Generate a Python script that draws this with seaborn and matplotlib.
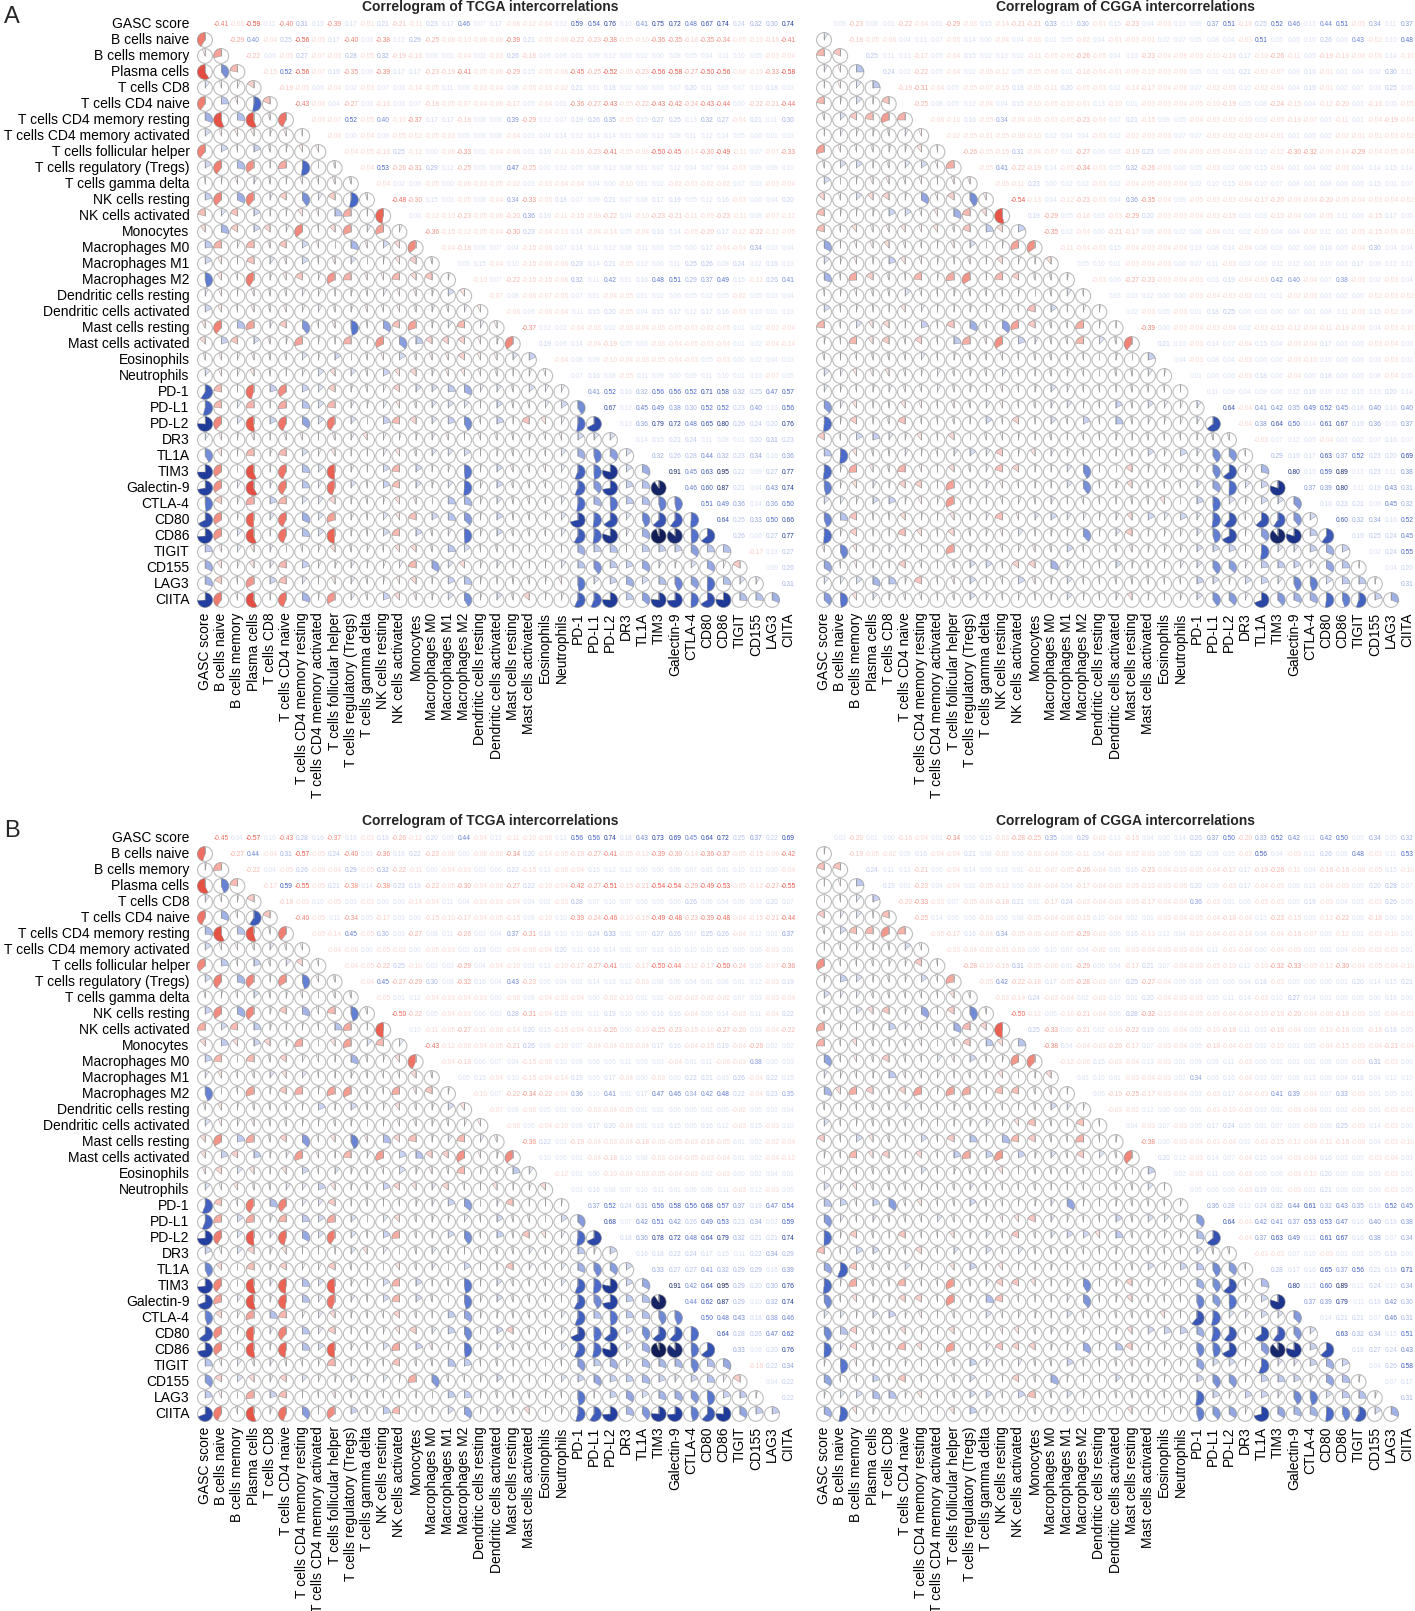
import numpy as np
import matplotlib
matplotlib.use("Agg")
import matplotlib.pyplot as plt
from matplotlib.patches import Circle, Wedge
from matplotlib.collections import PatchCollection, LineCollection
import seaborn as sns

labels = [
    "GASC score", "B cells naive", "B cells memory", "Plasma cells", "T cells CD8",
    "T cells CD4 naive", "T cells CD4 memory resting", "T cells CD4 memory activated",
    "T cells follicular helper", "T cells regulatory (Tregs)", "T cells gamma delta",
    "NK cells resting", "NK cells activated", "Monocytes", "Macrophages M0",
    "Macrophages M1", "Macrophages M2", "Dendritic cells resting",
    "Dendritic cells activated", "Mast cells resting", "Mast cells activated",
    "Eosinophils", "Neutrophils", "PD-1", "PD-L1", "PD-L2", "DR3", "TL1A", "TIM3",
    "Galectin-9", "CTLA-4", "CD80", "CD86", "TIGIT", "CD155", "LAG3", "CIITA",
]

# upper triangle, one string per row, correlation x 100 (row i holds columns i+1 .. end)
tcga_a = [
    "-41 -6 -59 11 -40 31 15 -39 17 -1 21 -21 -11 23 17 46 7 17 -8 -12 -4 12 59 54 76 10 41 75 72 48 67 74 24 32 30 74",
    "-29 40 -4 25 -56 -5 17 -40 3 -38 12 29 -25 -8 -10 -6 -8 -39 21 -5 -6 -22 -23 -38 -5 -10 -36 -35 -16 -35 -34 -5 -10 -16 -41",
    "-22 6 -5 27 -7 -3 28 -5 32 -19 -16 6 1 -4 2 -3 26 -18 6 6 1 9 12 3 2 0 8 5 4 11 10 5 -3 -4",
    "-15 52 -56 -7 19 -35 9 -39 17 17 -23 -19 -41 -5 -6 -29 15 -5 -8 -45 -25 -52 -6 -23 -56 -58 -27 -50 -56 -8 -10 -33 -58",
    "-19 -5 6 -4 2 -3 7 3 -14 -5 11 6 -3 -4 8 -5 -3 -2 21 1 18 2 6 3 7 20 11 3 7 10 18 3",
    "-43 -6 4 -27 3 -16 3 7 -18 -5 -7 -4 -6 -17 5 -4 1 -36 -27 -43 -5 -22 -43 -42 -24 -43 -44 0 -22 -21 -44",
    "-3 -7 52 -5 40 -10 -37 17 17 -18 8 6 39 -29 12 7 19 26 35 -5 15 27 25 13 32 27 -4 21 11 30",
    "-6 0 -4 9 -5 -2 -5 -3 5 6 8 -4 3 4 14 12 14 14 1 6 13 8 11 12 14 5 6 1 3",
    "-4 -5 -16 25 -12 0 -6 -33 1 -4 -6 1 16 -11 -16 -23 -41 -5 -8 -50 -45 -14 -30 -49 -11 7 -7 -33",
    "-4 53 -26 -31 29 12 -25 5 6 47 -25 0 12 5 8 13 8 1 7 12 4 7 4 -3 9 9 10",
    "-4 2 9 -5 0 -6 -3 -5 -2 3 -3 -4 -4 4 0 -10 1 2 -2 -3 -2 -2 7 3 -3 -4",
    "-48 -30 15 3 -5 8 -4 34 -33 -5 18 7 9 21 7 8 17 19 5 12 16 -3 6 4 20",
    "6 -12 -10 -23 -5 -6 -20 36 16 -11 -15 -8 -22 4 -10 -23 -21 -11 -9 -23 -11 8 -7 -12",
    "-36 -15 -12 -5 -4 -30 23 -4 -13 14 -4 -14 5 -4 16 14 -5 -20 17 -12 -22 -12 -5",
    "-4 -18 6 7 4 -15 -6 7 14 11 12 8 11 3 5 0 17 -4 -4 34 3 4",
    "5 15 -4 10 -15 -6 -6 23 14 21 -5 12 6 11 25 26 8 24 12 19 13",
    "-10 7 -22 -15 -15 -8 32 11 42 1 16 48 51 29 37 49 15 -12 26 41",
    "-7 8 -6 -7 -5 7 1 -4 -5 1 2 6 5 2 5 -2 5 3 4",
    "-6 6 -6 -4 11 15 20 -5 4 15 17 12 17 16 -3 10 1 13",
    "-37 12 2 -4 -3 2 -3 -4 -6 -5 -3 -2 -5 1 2 -2 -4",
    "19 6 14 -4 -19 5 3 -3 -4 -5 -3 -4 1 2 -4 -14",
    "-4 8 9 -10 -4 -3 -5 -4 -3 5 -3 0 2 4 3",
    "7 16 8 -5 11 9 0 9 11 10 1 10 -7 5",
    "41 52 16 32 56 56 52 71 58 32 25 47 57",
    "67 12 45 49 38 30 52 52 23 40 13 56",
    "13 36 79 72 48 65 80 26 24 20 76",
    "14 15 21 24 11 8 1 20 31 23",
    "32 26 28 44 32 23 34 16 36",
    "91 45 63 95 22 9 27 77",
    "46 60 87 21 4 43 74",
    "51 49 36 14 36 50",
    "64 25 33 50 66",
    "26 6 27 77",
    "-17 13 27",
    "9 26",
    "31",
]

cgga_a = [
    "9 -23 8 1 -22 -4 1 -29 -3 15 -14 -21 -21 33 13 30 -1 15 -23 4 -3 13 9 37 51 -16 25 52 46 13 44 51 -5 34 11 37",
    "-18 -5 -6 4 13 7 -5 14 0 -4 4 -3 1 5 -2 4 -1 -3 -1 2 7 5 8 4 -3 51 5 5 10 26 6 43 -2 10 48",
    "25 11 13 -17 5 -4 15 2 13 2 -11 -5 -6 -26 -5 4 13 -23 -4 -8 -3 -10 -16 17 -10 -26 -11 5 -19 -16 -8 -6 14 -10",
    "24 2 -22 5 -4 2 -6 -12 5 -5 -6 1 -16 -4 -1 -9 -10 -3 -6 5 1 1 21 -3 -7 9 16 -1 1 4 2 30 11",
    "-19 -31 -4 5 -5 -7 -15 18 -6 -11 20 -5 -3 2 -14 -17 -4 -8 7 -2 -5 10 -2 -4 4 19 -1 2 7 3 25 5",
    "-25 8 5 12 -4 4 15 -10 -5 -10 -1 13 -10 1 -3 -3 -4 -5 -10 -19 5 8 -24 -15 4 -12 -20 3 -16 5 -5",
    "-6 -10 16 -5 34 -4 -6 -3 -5 -23 -4 7 21 -15 9 5 -4 -6 -3 -10 3 -5 -16 -7 3 -11 1 -4 -19 -4",
    "-2 -5 -1 -5 -8 -10 2 4 4 -3 2 -2 -3 -3 7 7 -3 -2 -2 -4 -1 1 5 2 -2 -1 -1 -3 -2",
    "-26 -5 -15 31 -4 -7 1 -27 6 3 -19 23 5 -4 -3 -5 -4 -13 10 -12 -30 -32 -9 -14 -29 -4 -5 -4",
    "-5 41 -22 -19 14 -5 -34 -3 5 32 -26 -3 6 5 -3 2 0 15 -4 1 4 2 -3 4 14 15 14",
    "-6 -11 23 0 2 2 -3 2 -4 -5 -3 -4 2 10 15 -4 10 7 8 1 8 6 5 15 1 7",
    "-54 -13 4 -12 -23 -3 4 36 -35 -4 9 -5 -6 -3 -4 -17 -20 -6 -4 -20 -5 -4 -3 -4 -2",
    "19 -29 5 -16 3 -3 -29 20 -3 -3 -4 -3 -15 3 3 -15 -4 6 -5 11 6 -15 17 5",
    "-35 2 -4 0 -21 -17 8 -3 2 6 -4 1 2 -10 4 4 -2 11 1 -5 -15 -6 -1",
    "-11 -4 -3 15 -4 -3 -4 -4 13 8 14 -4 8 3 2 9 16 5 -4 30 4 4",
    "5 10 1 -3 -4 -3 6 7 11 -3 2 6 11 12 1 10 3 17 9 12 12",
    "-3 6 -27 -23 -3 -4 -3 3 19 -4 -3 42 40 -4 7 38 -3 2 -3 4",
    "3 3 12 0 0 -3 -4 -3 -2 1 1 -2 -3 3 2 0 -2 -3 -2",
    "2 -3 5 -3 1 18 25 6 3 0 7 1 8 11 -3 15 -2 8",
    "-39 0 -3 -4 -3 -4 2 -3 -15 -12 -4 -11 -16 -6 4 -3 -10",
    "21 10 -3 14 7 -4 15 4 -3 -4 17 3 5 -3 -4 3",
    "4 -3 8 4 -3 6 6 -3 -10 10 5 6 3 -3 1",
    "1 6 6 -3 18 6 -4 0 18 6 5 8 -4 5",
    "11 9 4 9 6 12 19 10 12 15 13 20 14",
    "64 -4 41 42 35 49 52 45 18 40 16 40",
    "-4 38 64 50 14 61 67 19 36 5 37",
    "-3 7 12 5 -4 3 2 7 16 7",
    "29 19 17 63 37 52 23 20 69",
    "80 15 59 89 13 23 11 38",
    "37 39 80 11 19 43 31",
    "16 23 21 9 45 32",
    "60 32 34 16 52",
    "19 25 24 45",
    "2 24 55",
    "4 20",
    "31",
]

tcga_b = [
    "-45 4 -57 10 -43 28 16 -37 16 -3 19 -26 -12 20 9 44 -4 13 -11 -10 -6 12 56 56 74 18 43 73 69 45 64 72 25 37 22 69",
    "-27 44 -4 31 -57 -5 24 -40 3 -36 16 22 -23 -8 0 -8 -6 -34 20 -14 -5 -19 -27 -41 -5 -12 -39 -30 -14 -36 -37 -5 -15 -6 -42",
    "-22 4 -5 26 -6 -4 29 -5 32 -22 -11 0 -4 -3 3 6 22 -15 12 -9 -4 15 12 12 0 0 9 7 3 1 10 13 0 -4",
    "-17 59 -55 -5 21 -38 14 -38 23 19 -22 -5 -30 -4 -6 -27 22 -10 -4 -42 -27 -51 -15 -21 -54 -54 -29 -49 -53 -5 -12 -27 -55",
    "-18 -3 10 -5 3 -3 6 6 -14 -4 11 4 -3 -3 -4 4 2 -3 28 7 10 7 6 9 6 26 9 4 9 8 20 7",
    "-40 -5 11 -34 5 -17 3 6 -15 -10 -17 -4 -5 -15 8 -10 10 -39 -24 -46 -10 -16 -49 -48 -23 -39 -48 -4 -15 -21 -44",
    "-5 -14 45 -5 30 3 -27 8 11 -26 3 4 37 -31 18 10 10 24 33 1 7 27 26 7 25 26 -4 12 1 37",
    "-4 -6 0 -5 -2 0 -5 -3 2 19 2 -4 -6 -4 20 11 16 14 1 7 13 10 10 10 15 5 6 -3 1",
    "-4 -5 -22 25 -10 3 3 -29 4 -4 -10 3 12 -10 -17 -27 -41 1 -17 -50 -44 -12 -17 -50 -24 6 -7 -36",
    "-4 45 -27 -29 30 8 -32 16 4 43 -23 6 4 2 14 13 12 -3 8 9 4 1 8 1 12 -3 19",
    "-5 1 12 -4 -3 -4 -3 0 -6 8 -4 -3 -4 0 -2 -10 1 2 -2 -3 -2 -2 7 3 -3 -4",
    "-50 -22 5 -4 -3 6 3 28 -31 -4 19 1 11 19 10 0 16 16 -4 6 14 -3 11 -4 22",
    "10 -11 -5 -27 -11 -6 -14 20 15 -15 -4 -13 -26 0 -10 -25 -23 -15 -10 -27 -20 3 -4 -22",
    "-43 -12 -6 -4 -5 -21 26 8 -10 7 -4 -4 -3 -4 17 16 -4 -15 19 -4 -26 2 2",
    "-4 -18 6 7 4 -15 -6 10 8 6 5 11 9 3 -4 1 11 -6 -3 38 0 3",
    "5 15 -4 10 -15 -4 -14 19 5 17 -4 0 -3 0 22 21 3 26 -4 22 15",
    "-10 7 -22 -34 -22 -4 36 10 41 1 17 47 46 34 42 48 22 -4 23 35",
    "-7 8 -6 5 1 0 -3 -4 -5 1 2 6 5 2 5 -2 5 3 4",
    "-6 6 -4 -10 8 17 20 -4 1 13 15 5 16 12 -3 15 -3 10",
    "-36 22 3 -19 -4 -3 -4 -18 -6 -5 -3 -16 -5 1 2 -2 -4",
    "10 6 1 -4 -18 10 8 -3 -4 -5 -3 -4 1 2 -4 -12",
    "-12 1 0 -10 -4 -3 -5 -4 -3 2 -3 0 2 4 1",
    "3 16 8 7 10 11 1 9 9 11 -3 12 -3 5",
    "37 52 24 31 56 58 56 68 57 37 19 47 54",
    "68 7 42 51 42 26 49 53 23 34 2 59",
    "18 36 78 72 48 64 79 32 21 21 74",
    "16 18 22 24 17 15 11 22 34 29",
    "33 27 27 41 32 29 29 16 39",
    "91 42 64 95 29 20 30 76",
    "44 62 87 29 10 32 74",
    "50 48 43 18 38 46",
    "64 28 26 47 62",
    "33 8 20 76",
    "-16 22 34",
    "4 22",
    "22",
]

cgga_b = [
    "3 -20 1 0 -16 -4 1 -34 6 15 -3 -28 -25 35 8 29 -3 13 -16 4 0 14 26 37 50 -20 33 52 42 11 42 50 5 34 5 32",
    "-19 -5 -2 9 16 -4 -4 21 8 -2 6 -3 -4 6 -11 4 -3 -2 -3 6 9 20 9 5 -3 56 4 -3 11 26 8 48 -3 11 53",
    "24 11 12 -21 6 -4 14 9 13 1 -11 -7 -5 -26 -4 3 16 -23 -4 -10 -5 -4 -17 17 -19 -26 -11 4 -16 -16 -6 -5 15 -10",
    "19 1 -23 4 -4 2 -5 -12 6 -4 -4 4 -17 -4 -3 -9 -10 -3 -6 20 9 -3 17 -4 -5 6 13 -4 -3 5 20 28 7",
    "-20 -33 -3 7 -5 -4 -18 21 1 -17 24 -3 -4 -3 -5 -17 -4 -4 36 -3 1 6 -5 -3 5 19 -3 4 3 -3 26 5",
    "-25 14 6 6 -3 6 8 -5 -4 -6 -15 10 -4 2 1 -3 -4 -5 -4 -18 -4 13 -23 -15 6 -12 -22 6 -18 6 0",
    "-5 -17 16 -4 34 -5 -6 -3 -5 -29 -3 6 16 -13 13 4 -10 -4 -3 -14 4 -4 -16 -7 6 -12 1 -3 -10 1",
    "-3 -4 -2 -1 -3 0 10 7 4 -2 1 -3 -4 -3 -3 -4 11 -3 -4 0 -4 -3 1 2 4 -3 -2 -3 1",
    "-28 -10 -16 31 -5 -6 1 -29 6 4 -17 21 7 -4 -3 -5 -10 12 -10 -32 -33 -5 -12 -30 -4 -5 -4 -10",
    "-5 42 -22 -18 17 -5 -28 -3 7 25 -27 -4 9 16 3 6 4 18 -3 5 0 0 1 20 14 15 21",
    "-3 -14 24 -3 -4 2 -3 10 1 20 -4 -3 -3 5 11 14 -3 10 27 14 1 9 9 0 16 6",
    "-50 -12 5 -10 -21 -4 6 28 -32 -10 -4 -5 -6 -4 -4 -10 -16 -20 -4 -6 -18 -3 2 -4 -3",
    "25 -33 0 -21 2 -10 -22 19 1 -4 2 -10 -18 11 2 -18 -4 6 -10 -16 8 -16 18 5",
    "-38 4 -4 -3 -20 -17 7 -3 -4 5 -18 -4 -3 2 -10 1 5 -4 -15 -3 -4 -21 -4",
    "-12 -6 15 -3 -4 13 -3 1 9 9 11 -3 6 2 1 2 8 6 -3 31 -3 6",
    "3 10 1 -3 -4 -3 2 34 6 16 -4 2 7 8 13 6 4 18 4 13 10",
    "5 -19 -25 -17 -3 -4 3 -3 17 -4 -3 41 39 -4 7 33 -3 1 5 1",
    "-3 -2 12 0 0 1 -3 -10 -3 2 1 -3 -4 1 2 -3 1 -3 -3",
    "4 -3 7 -3 5 17 24 5 1 7 6 -3 6 25 -3 14 -3 0",
    "-38 0 -3 -4 -3 -4 2 -3 -15 -12 -4 -11 -16 -6 4 -3 -10",
    "20 12 -3 14 7 -4 15 4 -3 -4 16 3 5 -3 -4 3",
    "2 -3 11 6 -3 6 6 -3 -10 20 5 6 3 -3 1",
    "5 6 6 -3 19 1 -3 1 21 6 5 6 -3 5",
    "36 28 13 24 32 44 61 32 43 35 19 52 45",
    "64 -4 42 41 37 53 53 47 16 40 19 38",
    "-4 37 63 49 12 61 67 16 38 7 34",
    "-3 -3 7 10 -3 1 3 5 19 6",
    "28 17 16 65 37 56 21 19 71",
    "80 13 60 89 12 24 10 34",
    "37 39 79 11 19 42 30",
    "14 21 21 7 46 31",
    "63 32 34 15 51",
    "19 27 24 43",
    "4 26 58",
    "7 17",
    "31",
]


def build(rows):
    n = len(labels)
    m = np.eye(n)
    for i, s in enumerate(rows):
        need = n - 1 - i
        vals = [int(v) / 100 for v in s.split()]
        vals = (vals + [0.0] * need)[:need]
        for j, v in enumerate(vals):
            m[i, i + 1 + j] = v
            m[i + 1 + j, i] = v
    return m


sns.set_theme(style="white")
plt.rcParams["font.family"] = ["Liberation Sans", "DejaVu Sans"]

cmap = sns.blend_palette(
    ["#9E0F12", "#D42E26", "#EC5F50", "#F7B2A8", "#FFFFFF",
     "#BAC7EE", "#4E6DCB", "#203C9E", "#0E1745"], as_cmap=True)

W, H = 1415, 1611
fig = plt.figure(figsize=(W / 100, H / 100), dpi=100)
n = len(labels)
CW, CH = 16.2, 16.0
R = 0.46


def panel(mat, x0, y0, show_rows):
    left = x0 - CW / 2
    top = y0 - CH / 2
    ax = fig.add_axes([left / W, 1 - (top + n * CH) / H, n * CW / W, n * CH / H])
    ax.set_xlim(-0.5, n - 0.5)
    ax.set_ylim(-0.5, n - 0.5)
    ax.axis("off")
    circles, wedges, wcols, ticks = [], [], [], []
    for r in range(n):
        yy = n - 1 - r
        for k in range(n):
            v = mat[r, k]
            if k < r:
                circles.append(Circle((k, yy), R))
                if v >= 0:
                    t1, t2 = 90 - 360 * v, 90
                else:
                    t1, t2 = 90, 90 - 360 * v
                if abs(v) > 0.004:
                    wedges.append(Wedge((k, yy), R, t1, t2))
                    wcols.append(cmap((v + 1) / 2))
                ticks.append([(k, yy), (k, yy + R)])
            elif k > r:
                tv = np.sign(v) * max(abs(v), 0.13) if v != 0 else 0.13
                ax.text(k, yy, f"{v:.2f}", color=cmap((tv + 1) / 2), fontsize=4.8,
                        ha="center", va="center")
    ax.add_collection(PatchCollection(circles, facecolor="white", edgecolor="#bdbdbd", linewidth=0.8))
    ax.add_collection(PatchCollection(wedges, facecolor=wcols, edgecolor="#8f8f8f", linewidth=0.3))
    ax.add_collection(LineCollection(ticks, colors="#8f8f8f", linewidths=0.5))
    for k, lab in enumerate(labels):
        ax.text(k, -0.78, lab, rotation=90, ha="center", va="top", fontsize=10,
                color="black", clip_on=False)
        if show_rows:
            ax.text(-0.95, n - 1 - k, lab, ha="right", va="center", fontsize=10,
                    color="black", clip_on=False)
    return ax


panel(build(tcga_a), 205, 24, True)
panel(build(cgga_a), 824, 24, False)
panel(build(tcga_b), 205, 838, True)
panel(build(cgga_b), 824, 838, False)

for ty in (7, 821):
    fig.text(490 / W, 1 - ty / H, "Correlogram of TCGA intercorrelations",
             fontsize=10, fontweight="bold", ha="center", va="center")
    fig.text(1126 / W, 1 - ty / H, "Correlogram of CGGA intercorrelations",
             fontsize=10, fontweight="bold", ha="center", va="center")
fig.text(12 / W, 1 - 17 / H, "A", fontsize=17, ha="center", va="center")
fig.text(12 / W, 1 - 831 / H, "B", fontsize=17, ha="center", va="center")

fig.savefig("out.png", dpi=100, facecolor="white")
